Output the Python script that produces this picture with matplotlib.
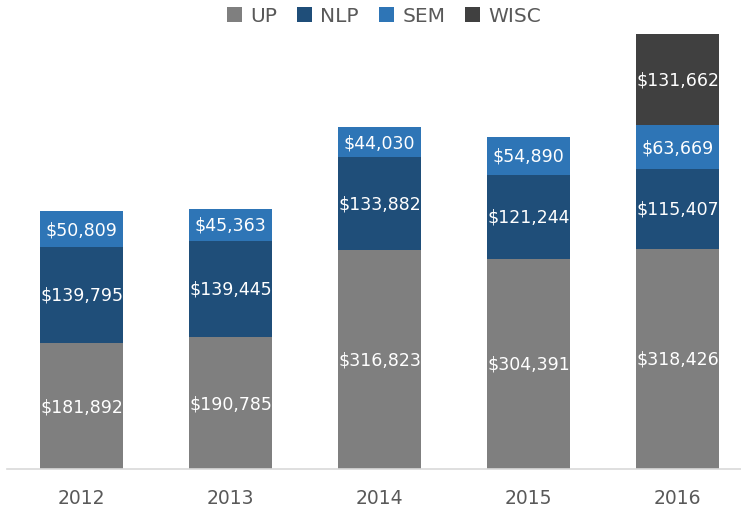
import matplotlib.pyplot as plt
import numpy as np

# Data
years = ['2012', '2013', '2014', '2015', '2016']
up = [181892, 190785, 316823, 304391, 318426]
nlp = [139795, 139445, 133882, 121244, 115407]
sem = [50809, 45363, 44030, 54890, 63669]
wisc = [0, 0, 0, 0, 131662]

series = [('UP', up, '#7f7f7f'), ('NLP', nlp, '#1f4e79'),
          ('SEM', sem, '#2e75b6'), ('WISC', wisc, '#404040')]

fig = plt.figure(figsize=(7.41, 5.10), dpi=100)
ax = fig.add_axes([7 / 741, 40 / 510, 745 / 741, 435 / 510])

x = np.arange(len(years))
bottom = np.zeros(len(years))
handles = []
for name, vals, color in series:
    vals = np.array(vals, dtype=float)
    bars = ax.bar(x, vals, width=0.56, bottom=bottom, color=color, label=name)
    handles.append(bars)
    for xi, v, b in zip(x, vals, bottom):
        if v > 0:
            ax.text(xi, b + v / 2, '${:,.0f}'.format(v), ha='center', va='center',
                    color='white', fontsize=12.5)
    bottom += vals

ax.set_xlim(-0.5, 4.5)
ax.set_ylim(0, bottom.max())
ax.set_xticks(x)
ax.set_xticklabels(years, fontsize=13.5, color='#595959')
ax.tick_params(axis='x', length=0, pad=14)
ax.set_yticks([])
for side in ['top', 'left', 'right']:
    ax.spines[side].set_visible(False)
ax.spines['bottom'].set_color('#d9d9d9')
ax.spines['bottom'].set_linewidth(1.2)

fig.legend(handles=handles, loc='center', bbox_to_anchor=(384 / 741, 1 - 17 / 510),
           ncol=4, frameon=False, fontsize=14.5, labelcolor='#595959',
           handlelength=0.75, handleheight=0.75, handletextpad=0.4, columnspacing=1.0)

fig.savefig('out.png', dpi=100)
